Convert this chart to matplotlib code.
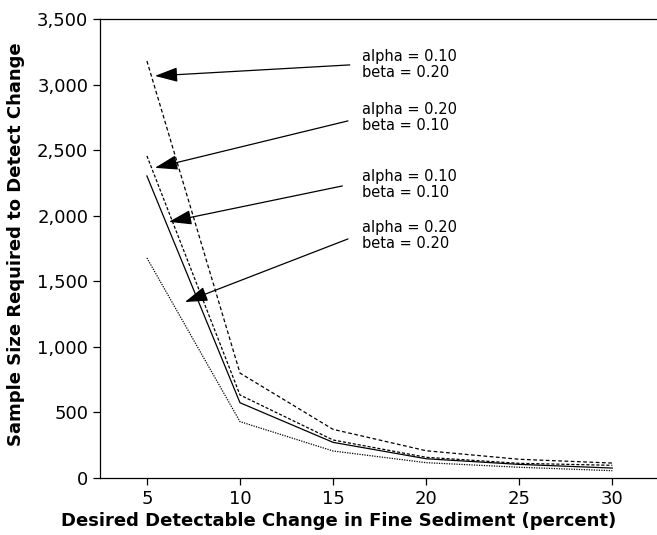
import matplotlib
matplotlib.use("Agg")
import matplotlib.pyplot as plt
from matplotlib.ticker import FuncFormatter

plt.rcParams['font.family'] = ['DejaVu Sans']

change = [5, 10, 15, 20, 25, 30]
a10_b20 = [3180, 800, 371, 208, 143, 114]
a20_b10 = [2456, 633, 290, 158, 112, 97]
a10_b10 = [2303, 574, 272, 147, 104, 76]
a20_b20 = [1678, 430, 206, 117, 82, 56]

labels = ["alpha = 0.10\nbeta = 0.20", "alpha = 0.20\nbeta = 0.10",
          "alpha = 0.10\nbeta = 0.10", "alpha = 0.20\nbeta = 0.20"]
label_pos = [(16.53, 3150), (16.53, 2750), (16.53, 2235), (16.53, 1850)]
arrow_tips = [(5.43, 3066), (5.43, 2365), (6.18, 1953), (7.04, 1342)]
arrow_tails = [(15.9, 3150), (15.8, 2723), (15.5, 2227), (15.8, 1823)]

fig = plt.figure(figsize=(6.57, 5.35), dpi=100)
ax = fig.add_axes([0.1522, 0.1065, 0.8478, 0.858])

ax.plot(change, a10_b20, color='black', lw=0.9, linestyle=(0, (3, 2)))
ax.plot(change, a20_b10, color='black', lw=0.9, linestyle=(0, (2.5, 1.5)))
ax.plot(change, a10_b10, color='black', lw=0.9, linestyle='-')
ax.plot(change, a20_b20, color='black', lw=0.9, linestyle=(0, (1, 1)))

for lab, pos, tip, tail in zip(labels, label_pos, arrow_tips, arrow_tails):
    ax.text(pos[0], pos[1], lab, fontsize=10.5, va='center', ha='left', linespacing=1.1)
    ax.annotate('', xy=tip, xytext=tail,
                arrowprops=dict(arrowstyle='-|>,head_length=1.4,head_width=0.45',
                                color='black', lw=0.9, shrinkA=0, shrinkB=0))

ax.set_xlim(2.48, 32.4)
ax.set_ylim(0, 3500)
ax.set_xticks(change)
ax.set_yticks(range(0, 3501, 500))
ax.yaxis.set_major_formatter(FuncFormatter(lambda v, p: f"{int(v):,}"))
ax.tick_params(direction='out', length=5, width=0.9, labelsize=13, colors='black')
ax.spines['right'].set_visible(False)
for s in ['left', 'bottom', 'top']:
    ax.spines[s].set_linewidth(0.9)

ax.set_xlabel("Desired Detectable Change in Fine Sediment (percent)", fontsize=13, fontweight='bold')
ax.set_ylabel("Sample Size Required to Detect Change", fontsize=13, fontweight='bold')
ax.xaxis.set_label_coords(0.429, -0.073)
ax.yaxis.set_label_coords(-0.135, 0.51)

fig.savefig("out.png", dpi=100)
